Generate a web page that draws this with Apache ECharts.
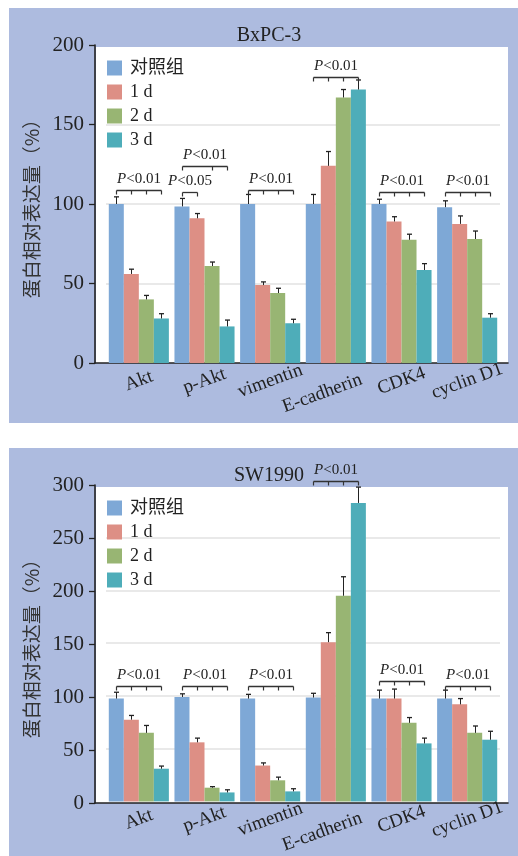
<!DOCTYPE html>
<html>
<head>
<meta charset="utf-8">
<script src="https://cdn.jsdelivr.net/npm/echarts@6/dist/echarts.min.js"></script>
<style>
html, body { margin: 0; padding: 0; background: #fff; }
#main { width: 518px; height: 856px; }
</style>
</head>
<body>
<div id="main"></div>
<script>
var myChart = echarts.init(document.getElementById('main'));

var categories = ['Akt', 'p-Akt', 'vimentin', 'E-cadherin', 'CDK4', 'cyclin D1'];
var groupNames = ['对照组', '1 d', '2 d', '3 d'];
var colors = ['#7ea8d6', '#dd8f85', '#98b573', '#4eadb9'];

// BxPC-3
var bxCtrl = [100, 98.5, 100, 100, 100, 98];
var bx1d = [56, 91, 49, 124, 89, 87.5];
var bx2d = [40, 61, 44, 167, 77.5, 78];
var bx3d = [28, 23, 25, 172, 58.5, 28.5];
var bxCtrlErr = [4.5, 5, 6, 6, 3, 4];
var bx1dErr = [3, 3, 2, 9, 3, 5];
var bx2dErr = [2.5, 2.5, 3, 5, 3.5, 5];
var bx3dErr = [3, 4, 2.5, 6, 4, 2.5];
var bxSigCat = [0, 1, 1, 2, 3, 4, 5];
var bxSigBars = [[0, 1, 2, 3], [0, 1], [0, 2, 3], [0, 1, 2, 3], [0, 1, 2, 3], [0, 1, 2, 3], [0, 1, 2, 3]];
var bxSigLevel = [109, 107.5, 124, 109, 180, 107.5, 107.5];
var bxSigText = ['<0.01', '<0.05', '<0.01', '<0.01', '<0.01', '<0.01', '<0.01'];

// SW1990
var swCtrl = [97.5, 99, 97.5, 98.5, 97.5, 97.5];
var sw1d = [77.5, 56, 34, 151, 97.5, 92];
var sw2d = [65, 13, 20, 195, 74.5, 65];
var sw3d = [31, 8.5, 9.5, 283, 55, 58.5];
var swCtrlErr = [6, 3, 4, 4, 8, 8];
var sw1dErr = [4, 4, 2.5, 9, 9, 5.5];
var sw2dErr = [7, 1, 3, 18, 5, 6.5];
var sw3dErr = [2.5, 2.5, 2.5, 15, 5, 8];
var swSigCat = [0, 1, 2, 3, 4, 5];
var swSigBars = [[0, 1, 2, 3], [0, 1, 2, 3], [0, 1, 2, 3], [0, 1, 2, 3], [0, 1, 2, 3], [0, 1, 2, 3]];
var swSigLevel = [109.7, 109.7, 109.7, 304, 114, 109.7];
var swSigText = ['<0.01', '<0.01', '<0.01', '<0.01', '<0.01', '<0.01'];

var SERIF = "'Liberation Serif', 'Times New Roman', 'Noto Sans CJK SC', serif";
var GAP = 0.085;

var panels = [
  { title: 'BxPC-3', top: 45, bottom: 856 - 363, max: 200, legendTop: 54, titleTop: 21,
    values: [bxCtrl, bx1d, bx2d, bx3d], errs: [bxCtrlErr, bx1dErr, bx2dErr, bx3dErr],
    sig: { cat: bxSigCat, bars: bxSigBars, level: bxSigLevel, text: bxSigText } },
  { title: 'SW1990', top: 485, bottom: 856 - 803, max: 300, legendTop: 494, titleTop: 461,
    values: [swCtrl, sw1d, sw2d, sw3d], errs: [swCtrlErr, sw1dErr, sw2dErr, sw3dErr],
    sig: { cat: swSigCat, bars: swSigBars, level: swSigLevel, text: swSigText } }
];

function renderError(params, api) {
  var cat = api.value(0), val = api.value(1), err = api.value(2), k = api.value(3);
  var bw = api.size([1, 0])[0] * (1 - GAP) / 4;
  var top = api.coord([cat, val]);
  var end = api.coord([cat, val + err]);
  var x = Math.round(top[0] + (k - 1.5) * bw) + 0.5;
  return {
    type: 'group',
    children: [
      { type: 'line', shape: { x1: x, y1: top[1], x2: x, y2: end[1] }, style: { stroke: '#222', lineWidth: 1 } },
      { type: 'line', shape: { x1: x - 2.5, y1: end[1], x2: x + 2.5, y2: end[1] }, style: { stroke: '#222', lineWidth: 1.3 } }
    ]
  };
}

function bracketRenderer(sig) {
  return function (params, api) {
    var i = params.dataIndex;
    var bw = api.size([1, 0])[0] * (1 - GAP) / 4;
    var c = api.coord([sig.cat[i], sig.level[i]]);
    var y = Math.round(c[1]) + 0.5;
    var xs = sig.bars[i].map(function (b) { return Math.round(c[0] + (b - 1.5) * bw) + 0.5; });
    var children = [
      { type: 'line', shape: { x1: xs[0], y1: y, x2: xs[xs.length - 1], y2: y }, style: { stroke: '#333', lineWidth: 1.3 } }
    ];
    xs.forEach(function (x) {
      children.push({ type: 'line', shape: { x1: x, y1: y, x2: x, y2: y + 4 }, style: { stroke: '#333', lineWidth: 1.2 } });
    });
    children.push({
      type: 'text',
      x: (xs[0] + xs[xs.length - 1]) / 2,
      y: y - 11,
      style: {
        text: '{i|P}{n|' + sig.text[i] + '}',
        align: 'center',
        verticalAlign: 'middle',
        rich: {
          i: { fontFamily: SERIF, fontStyle: 'italic', fontSize: 15, fill: '#222' },
          n: { fontFamily: SERIF, fontSize: 15, fill: '#222' }
        }
      }
    });
    return { type: 'group', children: children };
  };
}

var grid = [], xAxis = [], yAxis = [], series = [], title = [], legend = [];

panels.forEach(function (p, pi) {
  var ag = pi * 2, bg = pi * 2 + 1;
  grid.push({ left: 95, right: 10, top: p.top, bottom: p.bottom });
  grid.push({ left: 106, right: 18, top: p.top, bottom: p.bottom });

  xAxis.push({
    gridIndex: ag, type: 'value', min: 0, max: 1,
    axisLine: { show: true, lineStyle: { color: '#222', width: 1.6 } },
    axisTick: { show: false }, axisLabel: { show: false }, splitLine: { show: false }
  });
  xAxis.push({
    gridIndex: bg, type: 'category', data: categories,
    axisLine: { show: false }, axisTick: { show: false },
    axisLabel: {
      rotate: 20, margin: 18, align: 'center', verticalAlign: 'middle',
      fontFamily: SERIF, fontSize: 19, color: '#222', interval: 0,
      formatter: function (v) { return v === 'E-cadherin' ? '{e|' + v + '}' : v; },
      rich: { e: { fontFamily: SERIF, fontSize: 19, color: '#222', padding: [14, 34, 0, 0] } }
    }
  });

  yAxis.push({
    gridIndex: ag, type: 'value', min: 0, max: p.max, interval: 50,
    name: '蛋白相对表达量（%）', nameLocation: 'middle', nameRotate: 90, nameGap: 50,
    nameTextStyle: { fontFamily: "'Noto Sans CJK SC'", fontSize: 19, color: '#333' },
    axisLine: { show: true, lineStyle: { color: '#222', width: 1.6 } },
    axisTick: { show: true, length: 6, lineStyle: { color: '#222', width: 1.3 } },
    axisLabel: { margin: 11, fontFamily: SERIF, fontSize: 21, color: '#222' },
    splitLine: { show: false }
  });
  yAxis.push({
    gridIndex: bg, type: 'value', min: 0, max: p.max, interval: 50,
    axisLine: { show: false }, axisTick: { show: false }, axisLabel: { show: false },
    splitLine: { show: true, showMaxLine: false, showMinLine: false, lineStyle: { color: '#e2e2e2', width: 1.5 } }
  });

  groupNames.forEach(function (name, k) {
    series.push({
      name: name, type: 'bar', xAxisIndex: bg, yAxisIndex: bg,
      barGap: '0%', barCategoryGap: (GAP * 100) + '%',
      itemStyle: { color: colors[k] },
      data: p.values[k]
    });
  });

  var errData = [];
  p.values.forEach(function (vals, k) {
    vals.forEach(function (v, c) { errData.push([c, v, p.errs[k][c], k]); });
  });
  series.push({
    type: 'custom', xAxisIndex: bg, yAxisIndex: bg, z: 3, silent: true,
    encode: { x: 0, y: 1 }, renderItem: renderError, data: errData
  });

  series.push({
    type: 'custom', xAxisIndex: bg, yAxisIndex: bg, z: 4, silent: true, clip: false,
    encode: { x: 0, y: 1 }, renderItem: bracketRenderer(p.sig),
    data: p.sig.cat.map(function (c, i) { return [c, p.sig.level[i]]; })
  });

  title.push({
    text: p.title, left: 264, top: p.titleTop, textAlign: 'center',
    textStyle: { fontFamily: SERIF, fontSize: 20, fontWeight: 'normal', color: '#222' }
  });

  legend.push({
    orient: 'vertical', left: 102, top: p.legendTop,
    itemWidth: 15, itemHeight: 15, itemGap: 6, icon: 'rect',
    data: groupNames,
    textStyle: { fontFamily: SERIF, fontSize: 18, color: '#222', padding: [0, 0, 0, 3] }
  });
});

var option = {
  animation: false,
  color: colors,
  graphic: [
    { type: 'rect', z: -10, shape: { x: 9, y: 8, width: 509, height: 415 }, style: { fill: '#adbbdf' } },
    { type: 'rect', z: -10, shape: { x: 9, y: 448, width: 509, height: 408 }, style: { fill: '#adbbdf' } },
    { type: 'rect', z: -9, shape: { x: 96, y: 47, width: 412, height: 316 }, style: { fill: '#ffffff' } },
    { type: 'rect', z: -9, shape: { x: 96, y: 487, width: 412, height: 316 }, style: { fill: '#ffffff' } }
  ],
  title: title,
  legend: legend,
  grid: grid,
  xAxis: xAxis,
  yAxis: yAxis,
  series: series
};
myChart.setOption(option);
</script>
</body>
</html>
